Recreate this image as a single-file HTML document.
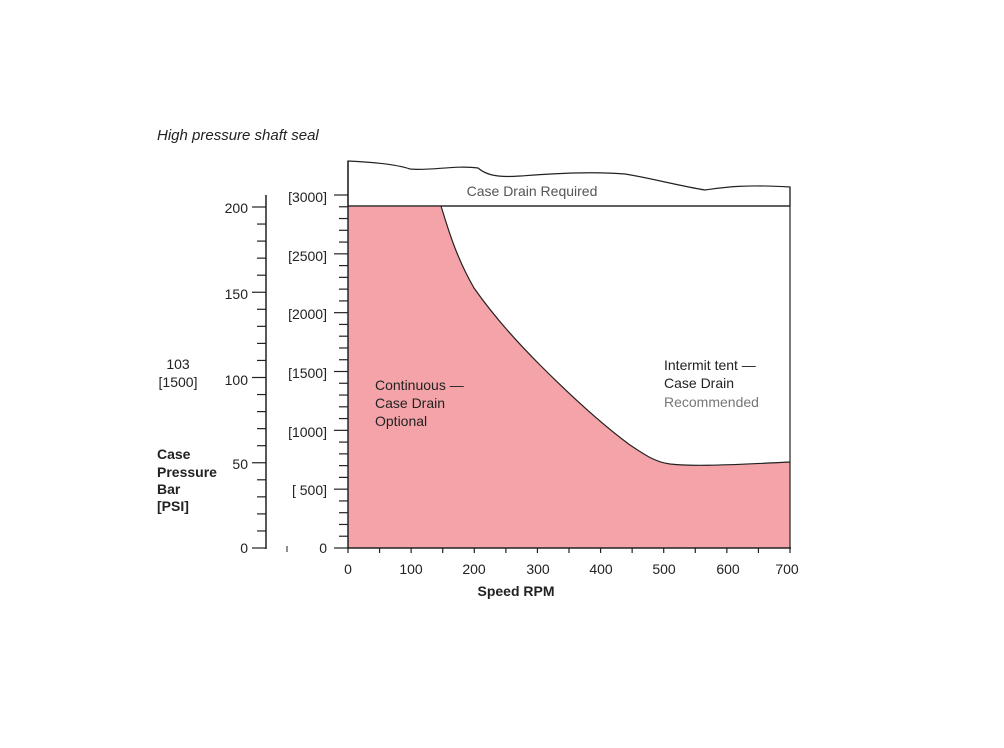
<!DOCTYPE html>
<html><head><style>
body{margin:0;background:#fff;}
svg text{font-family:"Liberation Sans",sans-serif;fill:#222;}
</style></head><body>
<svg width="1004" height="743" viewBox="0 0 1004 743" xmlns="http://www.w3.org/2000/svg">
<text x="157" y="140" font-size="15" font-style="italic">High pressure shaft seal</text>
<path d="M348,161 C370,162 395,164 410,169 C430,171 455,165 478,168 C485,174 495,178 520,176 C550,174 590,171 625,174 C650,178 680,186 705,190 C720,188 740,184 790,187 L790,206 L348,206 Z" fill="#fff" stroke="#222" stroke-width="1.2"/>
<text x="532" y="196" font-size="14" text-anchor="middle" style="fill:#555">Case Drain Required</text>
<path d="M348,206 L441,206 C447,225 455,255 474,288 C495,318 520,345 540,365 C570,395 600,423 630,445 C645,455 655,462 670,464 C690,466 710,466 790,462 L790,548 L348,548 Z" fill="#f4a4a8"/>
<path d="M441,206 C447,225 455,255 474,288 C495,318 520,345 540,365 C570,395 600,423 630,445 C645,455 655,462 670,464 C690,466 710,466 790,462" fill="none" stroke="#222" stroke-width="1.2"/>
<line x1="348" y1="206" x2="790" y2="206" stroke="#222" stroke-width="1.2"/>
<line x1="790" y1="187" x2="790" y2="548" stroke="#222" stroke-width="1.2"/>
<line x1="348" y1="161" x2="348" y2="549" stroke="#222" stroke-width="1.5"/>
<line x1="348" y1="548" x2="791" y2="548" stroke="#222" stroke-width="1.5"/>
<g stroke="#222" stroke-width="1.2" id="xt"></g>
<g stroke="#222" stroke-width="1.2" id="psit"></g>
<g stroke="#222" stroke-width="1.2" id="bart"></g>
<line x1="266" y1="195" x2="266" y2="549" stroke="#222" stroke-width="1.5"/>
<line x1="287" y1="546" x2="287" y2="552" stroke="#222" stroke-width="1"/>
<g font-size="14" text-anchor="end">
<text x="248" y="213">200</text><text x="248" y="299">150</text><text x="248" y="385">100</text><text x="248" y="469">50</text><text x="248" y="553">0</text>
<text x="327" y="202">[3000]</text><text x="327" y="261">[2500]</text><text x="327" y="319">[2000]</text><text x="327" y="378">[1500]</text><text x="327" y="437">[1000]</text><text x="327" y="495">[ 500]</text><text x="327" y="553">0</text>
</g>
<g font-size="14" text-anchor="middle">
<text x="178" y="369">103</text><text x="178" y="387">[1500]</text>
<text x="348" y="574">0</text><text x="411" y="574">100</text><text x="474" y="574">200</text><text x="538" y="574">300</text><text x="601" y="574">400</text><text x="664" y="574">500</text><text x="728" y="574">600</text><text x="787" y="574">700</text>
</g>
<text x="516" y="596" font-size="14" font-weight="bold" text-anchor="middle">Speed RPM</text>
<g font-size="14" font-weight="bold"><text x="157" y="459">Case</text><text x="157" y="477">Pressure</text><text x="157" y="494">Bar</text><text x="157" y="511">[PSI]</text></g>
<g font-size="14"><text x="375" y="390">Continuous  —</text><text x="375" y="408">Case Drain</text><text x="375" y="426">Optional</text>
<text x="664" y="370">Intermit tent  —</text><text x="664" y="388">Case Drain</text><text x="664" y="407" style="fill:#777">Recommended</text></g>
<script>
var ns="http://www.w3.org/2000/svg";
function L(g,x1,y1,x2,y2){var l=document.createElementNS(ns,"line");l.setAttribute("x1",x1);l.setAttribute("y1",y1);l.setAttribute("x2",x2);l.setAttribute("y2",y2);document.getElementById(g).appendChild(l);}
for(var i=0;i<=14;i++){var x=348+i*442/14;L("xt",x,548,x,553);}
for(var i=0;i<=30;i++){var y=548-i*353/30;L("psit",i%5==0?334:339,y,348,y);}
for(var i=0;i<=20;i++){var y=548-i*341/20;L("bart",i%5==0?252:257,y,266,y);}
</script>
</svg>
</body></html>
